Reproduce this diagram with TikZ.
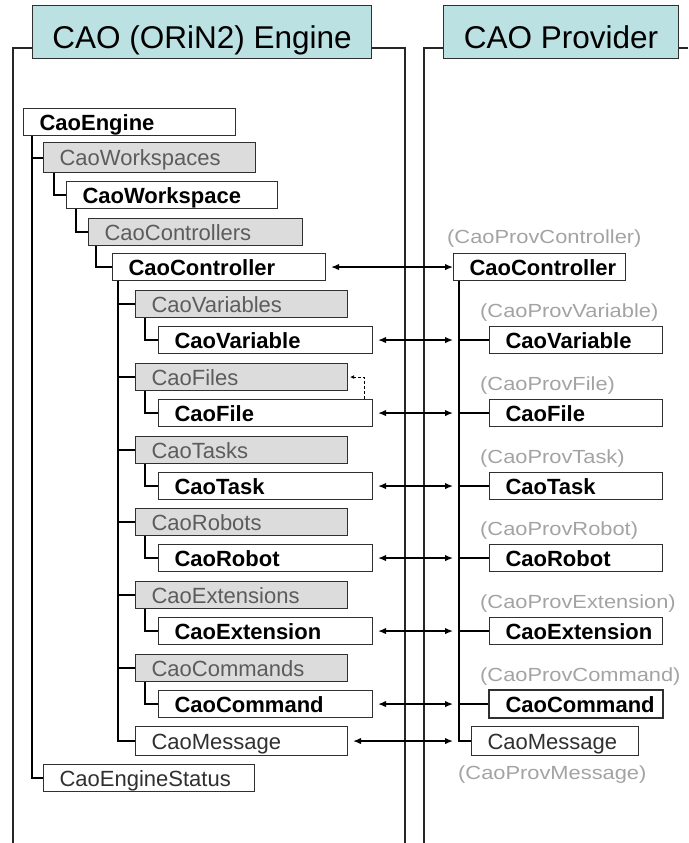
\documentclass[tikz,border=0pt]{standalone}
\usepackage{fontspec}
\setmainfont{Liberation Sans}
\newfontfamily\provfont[FakeStretch=1.15]{Liberation Sans}
\usetikzlibrary{arrows.meta}
\definecolor{hdrfill}{HTML}{BBE1E3}
\definecolor{grayfill}{HTML}{DCDCDC}
\definecolor{graytext}{HTML}{5C5C5C}
\definecolor{provtext}{HTML}{A3A3A3}
\definecolor{bord}{HTML}{303030}
\newcommand\lb[2]{\makebox[#1pt][l]{#2}}
\begin{document}
\begin{tikzpicture}[x=1pt,y=-1pt,
  bx/.style={draw=bord, line width=1.1pt, anchor=north west, inner xsep=16pt, inner ysep=0pt,
    minimum height=27pt, text height=17pt, text depth=1pt, font=\fontsize{22}{26}\selectfont},
  wbold/.style={bx, fill=white, font=\fontsize{22}{26}\selectfont\bfseries},
  gbox/.style={bx, fill=grayfill, text=graytext},
  wreg/.style={bx, fill=white, text=bord},
  hdr/.style={draw=bord, line width=1.1pt, fill=hdrfill, anchor=north west, minimum height=53pt,
    inner sep=0pt, text height=33pt, text depth=0pt, font=\fontsize{31.5}{36}\selectfont},
  prov/.style={anchor=base west, inner sep=0pt, text=provtext, font=\provfont\fontsize{19}{22}\selectfont},
  tree/.style={line width=2pt, black},
  frame/.style={line width=2pt, black!85},
  biarrow/.style={line width=1.4pt, {Latex[length=8pt,width=6.5pt]}-{Latex[length=8pt,width=6.5pt]}},
]
\useasboundingbox (0,0) rectangle (688,843);

% panel frames
\draw[frame] (13,843) -- (13,48) -- (32,48);
\draw[frame] (371,48) -- (405,48) -- (405,843);
\draw[frame] (424,843) -- (424,48) -- (443,48);
\draw[frame] (678,48) -- (688,48);

% headers
\node[hdr, minimum width=339pt] (hl) at (32,5) {CAO (ORiN2) Engine};
\node[hdr, minimum width=235pt] (hr) at (443,5) {CAO Provider};

% engine tree
\node[wbold] (eng) at (23,108) {\lb{180}{CaoEngine}};
\node[gbox, minimum height=30pt] (wss) at (43,142) {\lb{180}{CaoWorkspaces}};
\node[wbold] (ws) at (66,181) {\lb{179}{CaoWorkspace}};
\node[gbox] (ctls) at (88,218) {\lb{182}{CaoControllers}};
\node[wbold] (ctl) at (112,253) {\lb{181}{CaoController}};
\node[wreg, minimum height=29pt] (msg) at (135,726) {\lb{180}{CaoMessage}};
\node[wreg] (st) at (43,764) {\lb{179}{CaoEngineStatus}};

% provider
\node[prov] (pctl) at (447,243) {(CaoProvController)};
\node[wbold] (rctl) at (453,253) {\lb{140}{CaoController}};
\node[wreg, minimum height=29pt] (rmsg) at (471,726) {\lb{135}{CaoMessage}};
\node[prov] (pmsg) at (458,779) {(CaoProvMessage)};

\coordinate (tB) at ([xshift=6pt]ctl.south west);
\coordinate (tR) at ([xshift=6pt]rctl.south west);

\foreach \gy/\cy/\g/\gt/\c/\ct/\p in {
  290/326/vars/CaoVariables/var/CaoVariable/CaoProvVariable,
  363/399/files/CaoFiles/file/CaoFile/CaoProvFile,
  436/472/tasks/CaoTasks/task/CaoTask/CaoProvTask,
  508/544/robots/CaoRobots/robot/CaoRobot/CaoProvRobot,
  581/617/exts/CaoExtensions/ext/CaoExtension/CaoProvExtension,
  654/690/cmds/CaoCommands/cmd/CaoCommand/CaoProvCommand} {
  \node[gbox] (\g) at (135,\gy) {\lb{180}{\gt}};
  \node[wbold] (\c) at (158,\cy) {\lb{182}{\ct}};
  \node[prov] (p\c) at (480,\cy-9) {(\p)};
  \node[wbold] (r\c) at (489,\cy) {\lb{141}{\ct}};
  \draw[tree] (\g.west) -- (\g.west -| tB);
  \draw[tree] ([xshift=10pt]\g.south west) |- (\c.west);
  \draw[tree] (r\c.west) -- (r\c.west -| tR);
  \draw[biarrow, shorten <=5pt, shorten >=6pt] (\c.east) -- (\c.east -| tR);
}
\draw[line width=2pt, bord] (rcmd.south west) rectangle (rcmd.north east);

% tree lines
\draw[tree] ([xshift=9pt]eng.south west) |- (wss.west);
\draw[tree] ([xshift=9pt]eng.south west) |- (st.west);
\draw[tree] ([xshift=11pt]wss.south west) |- (ws.west);
\draw[tree] ([xshift=10pt]ws.south west) |- (ctls.west);
\draw[tree] ([xshift=8pt]ctls.south west) |- (ctl.west);
\draw[tree] (tB) |- (msg.west);
\draw[tree] (tR) |- (rmsg.west);

% arrows
\draw[biarrow, shorten <=5pt] (ctl.east) -- (rctl.west);
\draw[biarrow, shorten <=5pt, shorten >=6pt] (msg.east) -- (msg.east -| tR);
\draw[line width=0.8pt, dash pattern=on 3pt off 2pt, -{Latex[length=4pt,width=4pt]}]
  ([xshift=-9pt]file.north east) |- ([xshift=2pt]files.east);
\end{tikzpicture}
\end{document}
